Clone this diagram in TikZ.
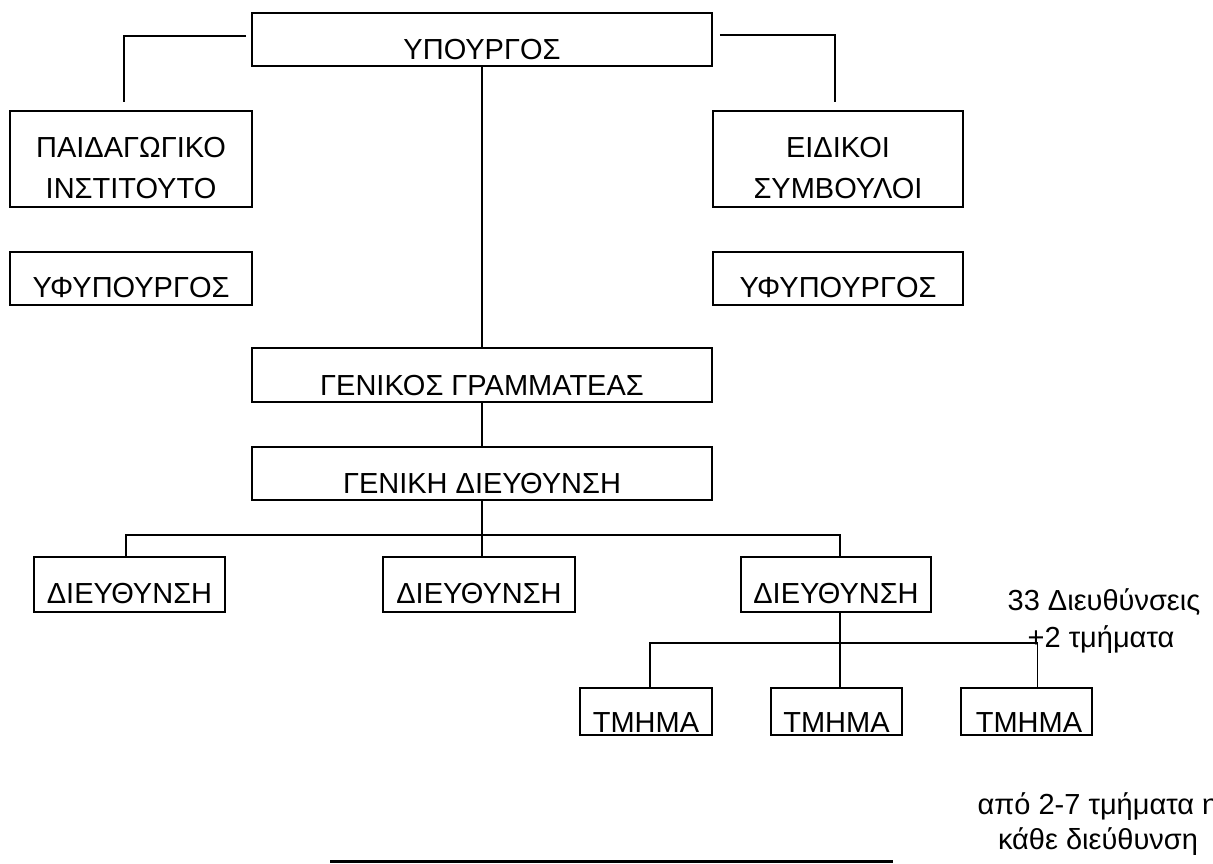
\documentclass[tikz,border=0pt]{standalone}
\usepackage{fontspec}
\setmainfont{Liberation Sans}
\newcommand\lblfont{\fontsize{29}{37}\selectfont}
\tikzset{
  box/.style={draw=black, line width=1.8pt, inner sep=0pt, rectangle},
  lbl/.style={inner sep=0pt, anchor=base, font=\lblfont},
  conn/.style={line width=1.8pt}
}
\begin{document}
\begin{tikzpicture}[x=1pt,y=-1pt]
\fill[white] (0,0) rectangle (1213,863);
\clip (0,0) rectangle (1213,863);
% boxes
\node[box, minimum width=460pt, minimum height=53pt] (min) at (482,39.5) {};
\node[box, minimum width=242pt, minimum height=96pt] (pi) at (131,159) {};
\node[box, minimum width=250pt, minimum height=96pt] (ei) at (838,159) {};
\node[box, minimum width=242pt, minimum height=53pt] (y1) at (131,278.5) {};
\node[box, minimum width=250pt, minimum height=53pt] (y2) at (838,278.5) {};
\node[box, minimum width=460pt, minimum height=54pt] (gg) at (482,375) {};
\node[box, minimum width=460pt, minimum height=53pt] (gd) at (482,473.5) {};
\node[box, minimum width=191pt, minimum height=55pt] (d1) at (129.5,584.5) {};
\node[box, minimum width=192pt, minimum height=55pt] (d2) at (479,584.5) {};
\node[box, minimum width=190pt, minimum height=55pt] (d3) at (836,584.5) {};
\node[box, minimum width=132pt, minimum height=47pt] (t1) at (646,711.5) {};
\node[box, minimum width=131pt, minimum height=47pt] (t2) at (836.5,711.5) {};
\node[box, minimum width=131pt, minimum height=47pt] (t3) at (1026.5,711.5) {};
% texts
\node[lbl] (minT) at (482,59) {ΥΠΟΥΡΓΟΣ};
\node[lbl] (piT1) at (131,157) {ΠΑΙΔΑΓΩΓΙΚΟ};
\node[lbl] (piT2) at (131,198) {ΙΝΣΤΙΤΟΥΤΟ};
\node[lbl] (eiT1) at (838,157) {ΕΙΔΙΚΟΙ};
\node[lbl] (eiT2) at (838,198) {ΣΥΜΒΟΥΛΟΙ};
\node[lbl] (y1T) at (131,297) {ΥΦΥΠΟΥΡΓΟΣ};
\node[lbl] (y2T) at (838,297) {ΥΦΥΠΟΥΡΓΟΣ};
\node[lbl] (ggT) at (482,395) {ΓΕΝΙΚΟΣ ΓΡΑΜΜΑΤΕΑΣ};
\node[lbl] (gdT) at (482,493) {ΓΕΝΙΚΗ ΔΙΕΥΘΥΝΣΗ};
\node[lbl] (d1T) at (129.5,603) {ΔΙΕΥΘΥΝΣΗ};
\node[lbl] (d2T) at (479,603) {ΔΙΕΥΘΥΝΣΗ};
\node[lbl] (d3T) at (836,603) {ΔΙΕΥΘΥΝΣΗ};
\node[lbl] (t1T) at (646,732) {ΤΜΗΜΑ};
\node[lbl] (t2T) at (836.5,732) {ΤΜΗΜΑ};
\node[lbl] (t3T) at (1029,732) {ΤΜΗΜΑ};
\node[lbl] (n1) at (1104,610) {33 Διευθύνσεις};
\node[lbl] (n2) at (1101,647) {+2 τμήματα};
\node[lbl] (n3) at (1098,814) {από 2-7 τμήματα η};
\node[lbl] (n4) at (1098,849) {κάθε διεύθυνση};
% connectors
\draw[conn, shorten <=5pt, shorten >=8pt] ([yshift=3.5pt]min.west) -| ([xshift=-7pt]pi.north);
\draw[conn, shorten <=7pt, shorten >=8pt] ([yshift=4.5pt]min.east) -| ([xshift=-3pt]ei.north);
\draw[conn] (min.south) -- (gg.north);
\draw[conn] (gg.south) -- (gd.north);
\coordinate (bus1) at (482,535);
\draw[conn] (gd.south) -- (gd.south |- d2.north);
\draw[conn] ([xshift=-3.5pt]d1.north) |- (bus1) -| ([xshift=4pt]d3.north);
\draw[conn] ([xshift=4pt]d3.south) -- ([xshift=4pt]d3.south |- t2.north);
\coordinate (bus2) at (840,643);
\draw[conn] ([xshift=4pt]t1.north) |- (bus2) -| ([xshift=11pt]t3.north);
% bottom line
\coordinate (bl) at (330,861.5);
\coordinate (br) at (893,861.5);
\draw[line width=2.5pt] (bl) -- (br);
\end{tikzpicture}
\end{document}
